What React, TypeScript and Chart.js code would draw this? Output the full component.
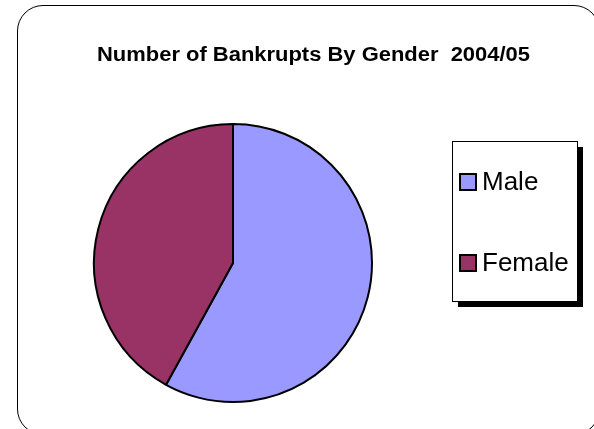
import React, { useEffect, useRef } from "react";
import { Chart, registerables } from "chart.js";

Chart.register(...registerables);

const categories = ["Male", "Female"];
const shares = [58, 42];
const colors = ["#9999FF", "#993366"];
const titleText = "Number of Bankrupts By Gender  2004/05";

const FONT = "'Liberation Sans', Arial, sans-serif";

const decorPlugin = {
  id: "decor",
  afterDraw(chart: any) {
    const ctx = chart.ctx;
    ctx.save();
    // title
    ctx.fillStyle = "#000";
    ctx.font = `bold 19.5px ${FONT}`;
    ctx.textAlign = "left";
    ctx.textBaseline = "alphabetic";
    const natural = ctx.measureText(titleText).width;
    const target = 433;
    ctx.save();
    ctx.translate(97, 61);
    ctx.scale(target / natural, 1);
    ctx.fillText(titleText, 0, 0);
    ctx.restore();

    // legend box with shadow
    const bx = 452, by = 141, bw = 125, bh = 160;
    ctx.fillStyle = "#000";
    ctx.fillRect(bx + 6, by + 6, bw, bh);
    ctx.fillStyle = "#fff";
    ctx.fillRect(bx, by, bw, bh);
    ctx.strokeStyle = "#000";
    ctx.lineWidth = 1;
    ctx.strokeRect(bx + 0.5, by + 0.5, bw, bh);

    const labels = chart.data.labels as string[];
    const bg = chart.data.datasets[0].backgroundColor as string[];
    const ys = [182, 263];
    ctx.font = `26px ${FONT}`;
    ctx.textAlign = "left";
    ctx.textBaseline = "middle";
    labels.forEach((lab, i) => {
      const y = ys[i];
      ctx.fillStyle = bg[i];
      ctx.fillRect(460, y - 8, 16, 16);
      ctx.lineWidth = 2;
      ctx.strokeStyle = "#000";
      ctx.strokeRect(460, y - 8, 16, 16);
      ctx.fillStyle = "#000";
      ctx.fillText(lab, 482, y + 1);
    });
    ctx.restore();
  },
};

function PieChart() {
  const ref = useRef<HTMLCanvasElement | null>(null);
  useEffect(() => {
    if (!ref.current) return;
    const chart = new Chart(ref.current, {
      type: "pie",
      data: {
        labels: categories,
        datasets: [
          {
            data: shares,
            backgroundColor: colors,
            borderColor: "#000",
            borderWidth: 2,
          },
        ],
      },
      options: {
        animation: false,
        responsive: false,
        layout: { padding: { top: 123, bottom: 26, left: 93, right: 221 } },
        plugins: {
          legend: { display: false },
          title: { display: false },
          tooltip: { enabled: false },
        },
      },
      plugins: [decorPlugin],
    });
    return () => chart.destroy();
  }, []);
  return (
    <canvas
      ref={ref}
      width={594}
      height={429}
      style={{ position: "absolute", left: 0, top: 0, width: 594, height: 429 }}
    />
  );
}

export default function App() {
  return (
    <div
      style={{
        position: "fixed",
        left: 0,
        top: 0,
        width: 594,
        height: 429,
        overflow: "hidden",
        background: "#fff",
      }}
    >
      <div
        style={{
          position: "absolute",
          left: 17,
          top: 5,
          width: 583,
          height: 430,
          boxSizing: "border-box",
          border: "1.5px solid #000",
          borderRadius: 26,
        }}
      />
      <PieChart />
    </div>
  );
}
